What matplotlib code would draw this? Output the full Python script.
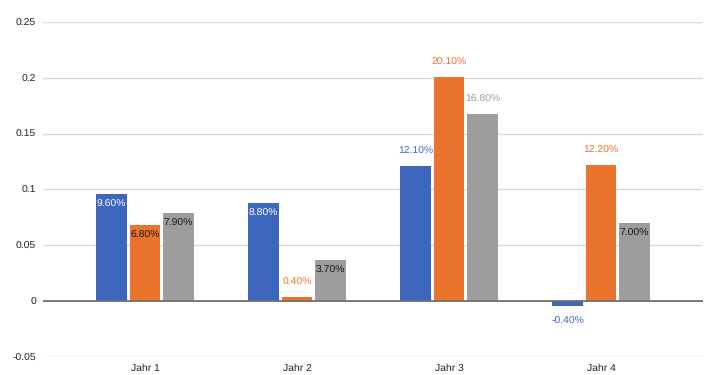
import matplotlib
matplotlib.use("Agg")
import matplotlib.pyplot as plt
import numpy as np

plt.rcParams['font.family'] = ['Liberation Sans', 'DejaVu Sans']
plt.rcParams['text.hinting'] = 'no_hinting'

categories = ["Jahr 1", "Jahr 2", "Jahr 3", "Jahr 4"]
series_a = [0.096, 0.088, 0.121, -0.004]
series_b = [0.068, 0.004, 0.201, 0.122]
series_c = [0.079, 0.037, 0.168, 0.070]
yticks = [-0.05, 0, 0.05, 0.1, 0.15, 0.2, 0.25]
ytick_labels = ["-0.05", "0", "0.05", "0.1", "0.15", "0.2", "0.25"]

colors = ["#3D66BF", "#EA742E", "#9D9D9D"]
# label placement: 'in' = inside top, 'out' = outside
placement = [
    ["in", "in", "out", "out"],
    ["in", "out", "out", "out"],
    ["in", "in", "out", "in"],
]
inside_text_colors = ["white", "#1a1a1a", "#1a1a1a"]

fig = plt.figure(figsize=(7.12, 3.75), dpi=100)
ax = fig.add_axes([43/712, 1-357/375, 660/712, (357-22)/375])

x = np.arange(len(categories))
w = 0.2
offs = [-0.22, 0.0, 0.22]
all_series = [series_a, series_b, series_c]

for yv in yticks:
    if yv == 0:
        continue
    ax.axhline(yv, color="#d9d9d9", lw=1.0, zorder=0)

for si, (vals, off, col) in enumerate(zip(all_series, offs, colors)):
    ax.bar(x + off, vals, width=w, color=col, zorder=2)
    for i, v in enumerate(vals):
        xc = x[i] + off
        lab = f"{v*100:.2f}%"
        if placement[si][i] == "in":
            ax.annotate(lab, (xc, v), xytext=(0, -4), textcoords="offset points",
                        ha="center", va="top", fontsize=7.5,
                        color=inside_text_colors[si], zorder=3)
        else:
            if v >= 0:
                ax.annotate(lab, (xc, v), xytext=(0, 7), textcoords="offset points",
                            ha="center", va="bottom", fontsize=7.5, color=col, zorder=3)
            else:
                ax.annotate(lab, (xc, v), xytext=(0, -8), textcoords="offset points",
                            ha="center", va="top", fontsize=7.5, color=col, zorder=3)

ax.axhline(0, color="#6e6e6e", lw=1.3, zorder=4)

ax.set_ylim(-0.05, 0.25)
ax.set_xlim(-0.671, 3.671)
ax.set_yticks(yticks)
ax.set_yticklabels(ytick_labels)
ax.set_xticks(x)
ax.set_xticklabels(categories)
ax.tick_params(axis="both", length=0, labelsize=7.5, colors="#222222")
ax.tick_params(axis="y", pad=5)
ax.tick_params(axis="x", pad=5)
for s in ax.spines.values():
    s.set_visible(False)

fig.savefig("out.png", dpi=100)
